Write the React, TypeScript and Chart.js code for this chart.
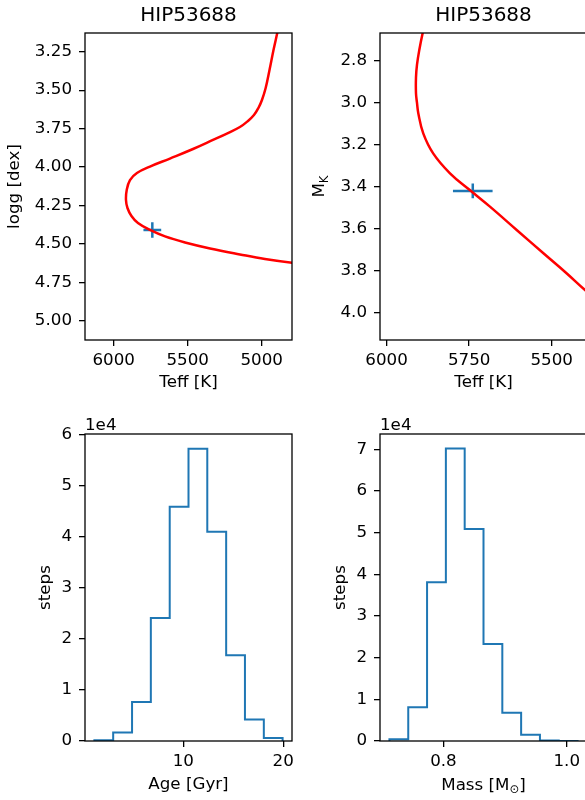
import React, { useEffect, useRef } from "react";
import { Chart, registerables } from "chart.js";

Chart.register(...registerables);

const FONT = "'DejaVu Sans', 'Noto Sans', sans-serif";
const FS = 16.7;
const BLUE = "#1f77b4";
const RED = "#ff0000";

// ---------- data ----------
const starName = "HIP53688";

// Isochrone track, logg vs Teff (top-left)
const isoTeffA = [4883, 4895, 4920, 4947, 4973, 4998, 5022, 5052, 5093, 5147, 5228, 5329, 5464, 5620, 5755, 5843, 5890, 5912, 5917, 5907, 5880, 5836, 5755, 5653, 5518, 5349, 5147, 4978, 4795, 4673];
const isoLoggA = [3.076, 3.13, 3.239, 3.369, 3.486, 3.564, 3.616, 3.662, 3.701, 3.74, 3.779, 3.824, 3.883, 3.945, 3.997, 4.039, 4.085, 4.15, 4.215, 4.267, 4.319, 4.365, 4.41, 4.452, 4.491, 4.53, 4.569, 4.599, 4.623, 4.631];

// Isochrone track, M_K vs Teff (top-right)
const isoTeffB = [5884, 5891, 5901, 5908, 5911, 5911, 5908, 5904, 5889, 5859, 5808, 5748, 5687, 5606, 5525, 5455, 5399, 5338];
const isoMkB = [2.63, 2.67, 2.749, 2.82, 2.88, 2.955, 3.0, 3.05, 3.146, 3.241, 3.336, 3.416, 3.495, 3.606, 3.717, 3.812, 3.892, 3.973];

// Observed star with errors
const starTeff = [5739];
const starTeffErr = [60];
const starLogg = [4.41];
const starLoggErr = [0.05];
const starMk = [3.42];
const starMkErr = [0.035];

// Age posterior histogram
const ageEdges = [1.10, 2.98, 4.87, 6.75, 8.64, 10.52, 12.40, 14.29, 16.17, 18.06, 19.94];
const ageCounts = [150, 1650, 7650, 24100, 45900, 57300, 41000, 16800, 4200, 600];

// Mass posterior histogram
const massEdges = [0.7125, 0.743, 0.7735, 0.804, 0.8345, 0.865, 0.8955, 0.926, 0.9565, 0.987, 1.0175];
const massCounts = [400, 8100, 38100, 70200, 50900, 23300, 6800, 1500, 150, 10];

// Tick labels
const loggTicks = [3.25, 3.5, 3.75, 4.0, 4.25, 4.5, 4.75, 5.0];
const teffTicksA = [6000, 5500, 5000];
const mkTicks = [2.8, 3.0, 3.2, 3.4, 3.6, 3.8, 4.0];
const teffTicksB = [6000, 5750, 5500];
const ageTicks = [10, 20];
const ageStepTicks = [0, 10000, 20000, 30000, 40000, 50000, 60000];
const massTicks = [0.8, 1.0];
const massStepTicks = [0, 10000, 20000, 30000, 40000, 50000, 60000, 70000];

// ---------- helpers ----------
type Seg = { text: string; size: number; dy: number };

function drawRich(ctx: CanvasRenderingContext2D, segs: Seg[], cx: number, cy: number, rot: number) {
  ctx.save();
  ctx.translate(cx, cy);
  ctx.rotate(rot);
  ctx.fillStyle = "#000";
  ctx.textBaseline = "alphabetic";
  ctx.textAlign = "left";
  let total = 0;
  const widths = segs.map((s) => {
    ctx.font = `${s.size}px ${FONT}`;
    const w = ctx.measureText(s.text).width;
    total += w;
    return w;
  });
  let x = -total / 2;
  segs.forEach((s, i) => {
    ctx.font = `${s.size}px ${FONT}`;
    ctx.fillText(s.text, x, s.dy);
    x += widths[i];
  });
  ctx.restore();
}

type Extra = (ctx: CanvasRenderingContext2D, area: any) => void;

function makePlugin(extra: Extra) {
  return {
    id: "frameAndText",
    afterDraw(chart: any) {
      const { ctx, chartArea } = chart;
      ctx.save();
      ctx.strokeStyle = "#000";
      ctx.lineWidth = 1.3;
      ctx.strokeRect(chartArea.left, chartArea.top, chartArea.right - chartArea.left, chartArea.bottom - chartArea.top);
      ctx.restore();
      extra(ctx, chartArea);
    },
  };
}

function axis(opts: {
  min: number;
  max: number;
  reverse?: boolean;
  ticks: number[];
  fmt: (v: number) => string;
  isX: boolean;
  title?: string;
  titlePad?: number;
}) {
  const font = { family: FONT, size: FS };
  return {
    type: "linear",
    min: opts.min,
    max: opts.max,
    reverse: !!opts.reverse,
    afterBuildTicks: (s: any) => {
      s.ticks = opts.ticks.map((v) => ({ value: v }));
    },
    afterFit: (s: any) => {
      if (opts.isX) s.height = 60;
      else s.width = 85;
    },
    ticks: {
      callback: (v: any) => opts.fmt(Number(v)),
      color: "#000",
      font,
      padding: opts.isX ? 5 : 7,
      maxRotation: 0,
      autoSkip: false,
    },
    grid: {
      drawOnChartArea: false,
      drawTicks: true,
      tickLength: 6,
      color: "#000",
      lineWidth: 1.3,
    },
    border: { display: false },
    title: opts.title
      ? {
          display: true,
          text: opts.title,
          color: "#000",
          font,
          padding: opts.isX ? { top: 0, bottom: opts.titlePad ?? 7 } : { top: opts.titlePad ?? 5, bottom: 0 },
        }
      : { display: false },
  };
}

function baseOptions(scales: any, rightPad: number) {
  return {
    responsive: false,
    animation: false,
    devicePixelRatio: 1,
    layout: { padding: { top: 33, right: rightPad, left: 0, bottom: 0 } },
    plugins: { legend: { display: false }, tooltip: { enabled: false }, title: { display: false } },
    scales,
  };
}

function histPoints(edges: number[], counts: number[]) {
  const pts: { x: number; y: number }[] = [{ x: edges[0], y: 0 }];
  counts.forEach((c, i) => pts.push({ x: edges[i], y: c }));
  pts.push({ x: edges[edges.length - 1], y: 0 });
  return pts;
}

const lineDs = (data: any[], color: string, width: number, extra: any = {}) => ({
  data,
  showLine: true,
  borderColor: color,
  backgroundColor: color,
  borderWidth: width,
  pointRadius: 0,
  fill: false,
  ...extra,
});

const titleDraw = (ctx: CanvasRenderingContext2D, a: any) =>
  drawRich(ctx, [{ text: starName, size: 20, dy: 0 }], (a.left + a.right) / 2, 20.7, 0);

const offsetDraw = (ctx: CanvasRenderingContext2D, a: any) => {
  ctx.save();
  ctx.fillStyle = "#000";
  ctx.font = `${FS}px ${FONT}`;
  ctx.textAlign = "left";
  ctx.textBaseline = "alphabetic";
  ctx.fillText("1e4", a.left, a.top - 4.5);
  ctx.restore();
};

const LEFT_W = 300;
const RIGHT_W = 360;

// ---------- panel configs ----------
function configLogg() {
  return {
    type: "scatter",
    data: {
      datasets: [
        lineDs(isoTeffA.map((t, i) => ({ x: t, y: isoLoggA[i] })), RED, 2.5, { tension: 0.4 }),
        lineDs([{ x: starTeff[0] - starTeffErr[0], y: starLogg[0] }, { x: starTeff[0] + starTeffErr[0], y: starLogg[0] }], BLUE, 2.5),
        lineDs([{ x: starTeff[0], y: starLogg[0] - starLoggErr[0] }, { x: starTeff[0], y: starLogg[0] + starLoggErr[0] }], BLUE, 2.5),
      ],
    },
    options: baseOptions(
      {
        x: axis({ min: 4795, max: 6194, reverse: true, ticks: teffTicksA, fmt: (v) => String(Math.round(v)), isX: true, title: "Teff [K]" }),
        y: axis({ min: 3.128, max: 5.126, reverse: true, ticks: loggTicks, fmt: (v) => v.toFixed(2), isX: false, title: "logg [dex]", titlePad: 5 }),
      },
      LEFT_W - 292
    ),
    plugins: [makePlugin(titleDraw)],
  };
}

function configMk() {
  return {
    type: "scatter",
    data: {
      datasets: [
        lineDs(isoTeffB.map((t, i) => ({ x: t, y: isoMkB[i] })), RED, 2.5, { tension: 0.4 }),
        lineDs([{ x: starTeff[0] - starTeffErr[0], y: starMk[0] }, { x: starTeff[0] + starTeffErr[0], y: starMk[0] }], BLUE, 2.5),
        lineDs([{ x: starTeff[0], y: starMk[0] - starMkErr[0] }, { x: starTeff[0], y: starMk[0] + starMkErr[0] }], BLUE, 2.5),
      ],
    },
    options: baseOptions(
      {
        x: axis({ min: 5393, max: 6020, reverse: true, ticks: teffTicksB, fmt: (v) => String(Math.round(v)), isX: true, title: "Teff [K]" }),
        y: axis({ min: 2.668, max: 4.13, reverse: true, ticks: mkTicks, fmt: (v) => v.toFixed(1), isX: false }),
      },
      RIGHT_W - 292
    ),
    plugins: [
      makePlugin((ctx, a) => {
        titleDraw(ctx, a);
        drawRich(
          ctx,
          [
            { text: "M", size: FS, dy: 0 },
            { text: "K", size: 11.7, dy: 4.5 },
          ],
          28.5,
          (a.top + a.bottom) / 2,
          -Math.PI / 2
        );
      }),
    ],
  };
}

function configAge() {
  return {
    type: "scatter",
    data: {
      datasets: [lineDs(histPoints(ageEdges, ageCounts), BLUE, 2, { stepped: "before" })],
    },
    options: baseOptions(
      {
        x: axis({ min: 0.16, max: 20.88, ticks: ageTicks, fmt: (v) => String(Math.round(v)), isX: true, title: "Age [Gyr]", titlePad: 6 }),
        y: axis({ min: 0, max: 60170, ticks: ageStepTicks, fmt: (v) => String(Math.round(v / 1e4)), isX: false, title: "steps", titlePad: 36 }),
      },
      LEFT_W - 292
    ),
    plugins: [makePlugin(offsetDraw)],
  };
}

function configMass() {
  return {
    type: "scatter",
    data: {
      datasets: [lineDs(histPoints(massEdges, massCounts), BLUE, 2, { stepped: "before" })],
    },
    options: baseOptions(
      {
        x: axis({ min: 0.6972, max: 1.0328, ticks: massTicks, fmt: (v) => v.toFixed(1), isX: true }),
        y: axis({ min: 0, max: 73700, ticks: massStepTicks, fmt: (v) => String(Math.round(v / 1e4)), isX: false, title: "steps", titlePad: 36 }),
      },
      RIGHT_W - 292
    ),
    plugins: [
      makePlugin((ctx, a) => {
        offsetDraw(ctx, a);
        drawRich(
          ctx,
          [
            { text: "Mass [M", size: FS, dy: 0 },
            { text: "\u2299", size: 11.7, dy: 3 },
            { text: "]", size: FS, dy: 0 },
          ],
          (a.left + a.right) / 2,
          a.bottom + 48.5,
          0
        );
      }),
    ],
  };
}

// ---------- components ----------
function Panel({ make, left, top, width }: { make: () => any; left: number; top: number; width: number }) {
  const ref = useRef<HTMLCanvasElement | null>(null);
  useEffect(() => {
    if (!ref.current) return;
    const chart = new Chart(ref.current, make());
    return () => chart.destroy();
  }, [make]);
  return (
    <canvas
      ref={ref}
      width={width}
      height={400}
      style={{ position: "absolute", left, top, width, height: 400 }}
    />
  );
}

export default function App() {
  return (
    <div
      style={{
        position: "absolute",
        left: 0,
        top: 0,
        width: 585,
        height: 800,
        overflow: "hidden",
        background: "#fff",
      }}
    >
      <Panel make={configLogg} left={0} top={0} width={LEFT_W} />
      <Panel make={configMk} left={295} top={0} width={RIGHT_W} />
      <Panel make={configAge} left={0} top={401} width={LEFT_W} />
      <Panel make={configMass} left={295} top={401} width={RIGHT_W} />
    </div>
  );
}
